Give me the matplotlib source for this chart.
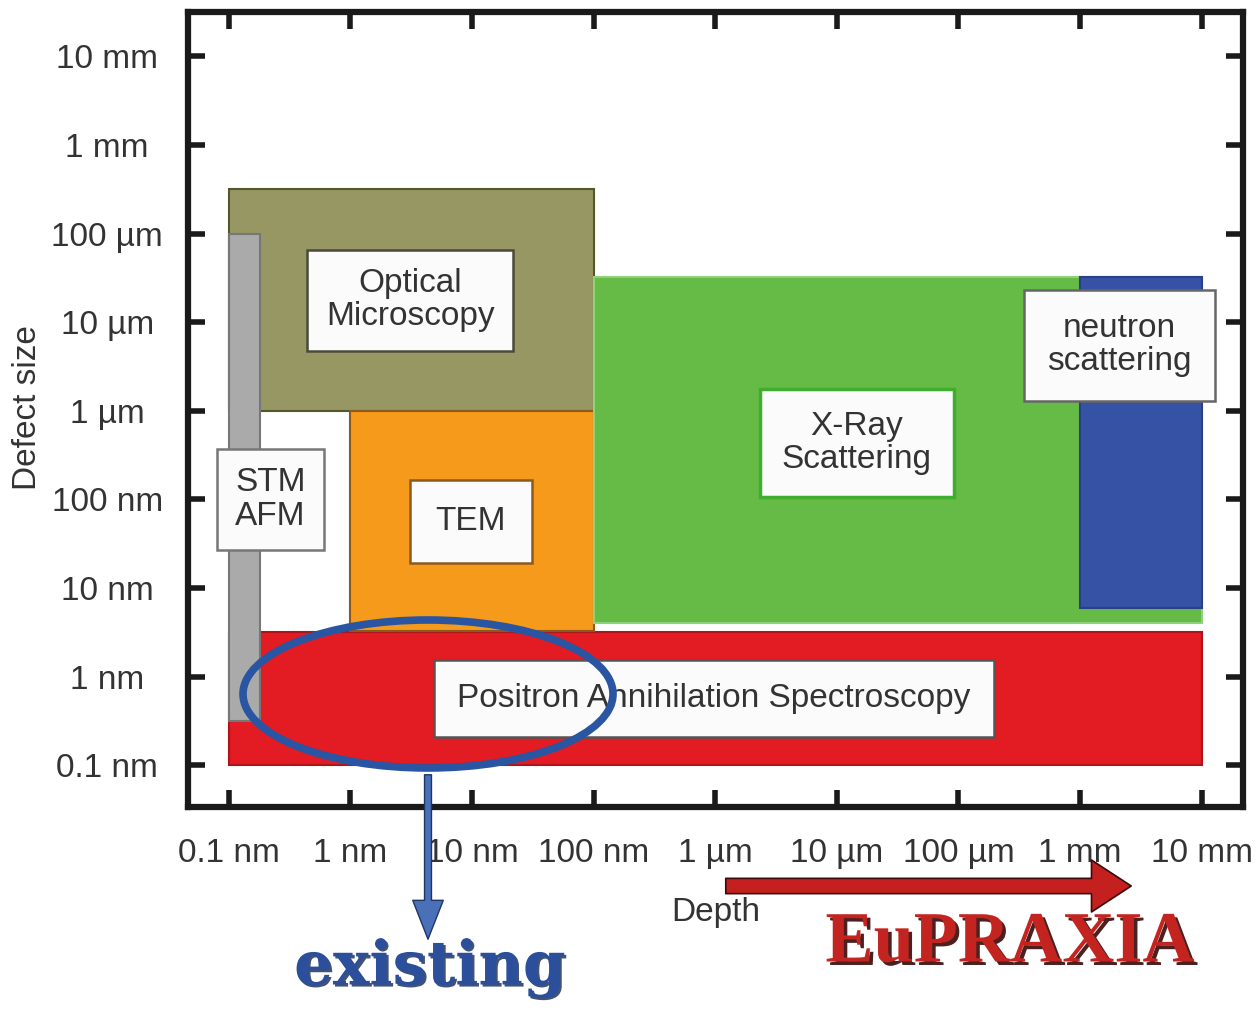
import matplotlib
matplotlib.use("Agg")
import matplotlib.pyplot as plt
import matplotlib.patches as mpatches
import matplotlib.patheffects as pe

# probing techniques: depth range and defect-size range (metres)
techniques = ["Positron Annihilation Spectroscopy", "Optical\nMicroscopy", "TEM",
              "X-Ray\nScattering", "neutron\nscattering", "STM\nAFM"]
depth_lo = [1e-10, 1e-10, 1e-9, 1e-7, 1e-3, 1e-10]
depth_hi = [1e-2, 1e-7, 1e-7, 1e-2, 1e-2, 1.8e-10]
size_lo = [1e-10, 1e-6, 3.3e-9, 4e-9, 6e-9, 3.2e-10]
size_hi = [3.2e-9, 3.2e-4, 1e-6, 3.2e-5, 3.2e-5, 1e-4]

# where each label box sits (depth, size)
label_x = [9.8e-7, 3.1e-9, 9.8e-9, 1.46e-5, 2.1e-3, 2.2e-10]
label_y = [5.7e-10, 1.77e-5, 5.7e-8, 4.3e-7, 5.5e-6, 1.0e-7]

ticks = [1e-10, 1e-9, 1e-8, 1e-7, 1e-6, 1e-5, 1e-4, 1e-3, 1e-2]
tick_labels = ["0.1 nm", "1 nm", "10 nm", "100 nm", "1 µm",
               "10 µm", "100 µm", "1 mm", "10 mm"]

fill = ["#e31b23", "#979763", "#f59a1a", "#65bb46", "#3652a5", "#aaaaaa"]
edge = ["#b01418", "#55552e", "#8a5a1e", "#8fd27a", "#2a3f85", "#777777"]
box_edge = ["#555555", "#4a4a3a", "#8a5a1e", "#3fae2c", "#666666", "#777777"]
box_pad = [0.7, 0.55, 0.78, 0.66, 0.7, 0.55]

SANS = ["Liberation Sans", "DejaVu Sans"]
TXT = "#333333"

fig = plt.figure(figsize=(12.6, 10.09), dpi=100)
ax = fig.add_axes([0.149, 0.2002, 0.8375, 0.788])
ax.set_xscale("log")
ax.set_yscale("log")
ax.set_xlim(10 ** -10.337, 10 ** -1.66)
ax.set_ylim(10 ** -10.47, 10 ** -1.5)

for i in range(len(techniques)):
    ax.add_patch(mpatches.Rectangle((depth_lo[i], size_lo[i]),
                                    depth_hi[i] - depth_lo[i], size_hi[i] - size_lo[i],
                                    facecolor=fill[i], edgecolor=edge[i], lw=1.5, zorder=2))

for i, name in enumerate(techniques):
    ax.text(label_x[i], label_y[i], name, ha="center", va="center",
            family=SANS, fontsize=24, color=TXT, linespacing=1.1, zorder=5,
            bbox=dict(boxstyle=f"square,pad={box_pad[i]}", facecolor="#fbfbfb",
                      edgecolor=box_edge[i], lw=2.5 if i == 3 else 1.8))

ax.set_xticks(ticks)
ax.set_xticklabels(tick_labels)
ax.set_yticks(ticks)
ax.set_yticklabels(tick_labels)
ax.minorticks_off()
ax.tick_params(which="major", direction="in", length=12, width=4, color="#1a1a1a",
               top=True, right=True, labelsize=24, labelcolor=TXT)
ax.tick_params(axis="x", pad=22)
ax.tick_params(axis="y", pad=58)
for lab in ax.get_yticklabels():
    lab.set_horizontalalignment("center")
for lab in ax.get_xticklabels() + ax.get_yticklabels():
    lab.set_family(SANS)
for sp in ax.spines.values():
    sp.set_linewidth(4.5)
    sp.set_color("#1a1a1a")

fig.text(28 / 1260, 1 - 408 / 1009, "Defect size", rotation=90, ha="center", va="center",
         family=SANS, fontsize=24, color=TXT)
fig.text(716 / 1260, 1 - 913 / 1009, "Depth", ha="center", va="center",
         family=SANS, fontsize=24, color=TXT)

# highlight of the range covered so far
fig.add_artist(mpatches.Ellipse((428 / 1260, 1 - 694 / 1009), 370 / 1260, 148 / 1009,
                                transform=fig.transFigure, fill=False,
                                edgecolor="#2a55a2", lw=5.5, zorder=10))
fig.add_artist(mpatches.FancyArrowPatch((428 / 1260, 1 - 772 / 1009), (428 / 1260, 1 - 942 / 1009),
                                        transform=fig.transFigure,
                                        arrowstyle="simple,head_width=1.1,head_length=1.4,tail_width=0.25",
                                        mutation_scale=20, facecolor="#4a70b8",
                                        edgecolor="#1e3566", lw=1))
fig.text(430 / 1260, 1 - 968 / 1009, "existing", ha="center", va="center",
         family="DejaVu Serif", weight="bold", fontsize=44, color="#2b4f9a",
         path_effects=[pe.withSimplePatchShadow(offset=(1.5, -1.5), shadow_rgbFace="#142850", alpha=0.8)])

# direction of the new facility
fig.add_artist(mpatches.FancyArrowPatch((723 / 1260, 1 - 886 / 1009), (1134 / 1260, 1 - 886 / 1009),
                                        transform=fig.transFigure,
                                        arrowstyle="simple,head_width=1.7,head_length=1.3,tail_width=0.5",
                                        mutation_scale=22, facecolor="#c42020",
                                        edgecolor="#3a0a0a", lw=1.2))
fig.text(1010 / 1260, 1 - 944 / 1009, "EuPRAXIA", ha="center", va="center",
         family="Liberation Serif", weight="bold", fontsize=52, color="#c42420",
         path_effects=[pe.withSimplePatchShadow(offset=(2.5, -2.5), shadow_rgbFace="#3a0808", alpha=0.9)])

fig.savefig("out.png", dpi=100)
